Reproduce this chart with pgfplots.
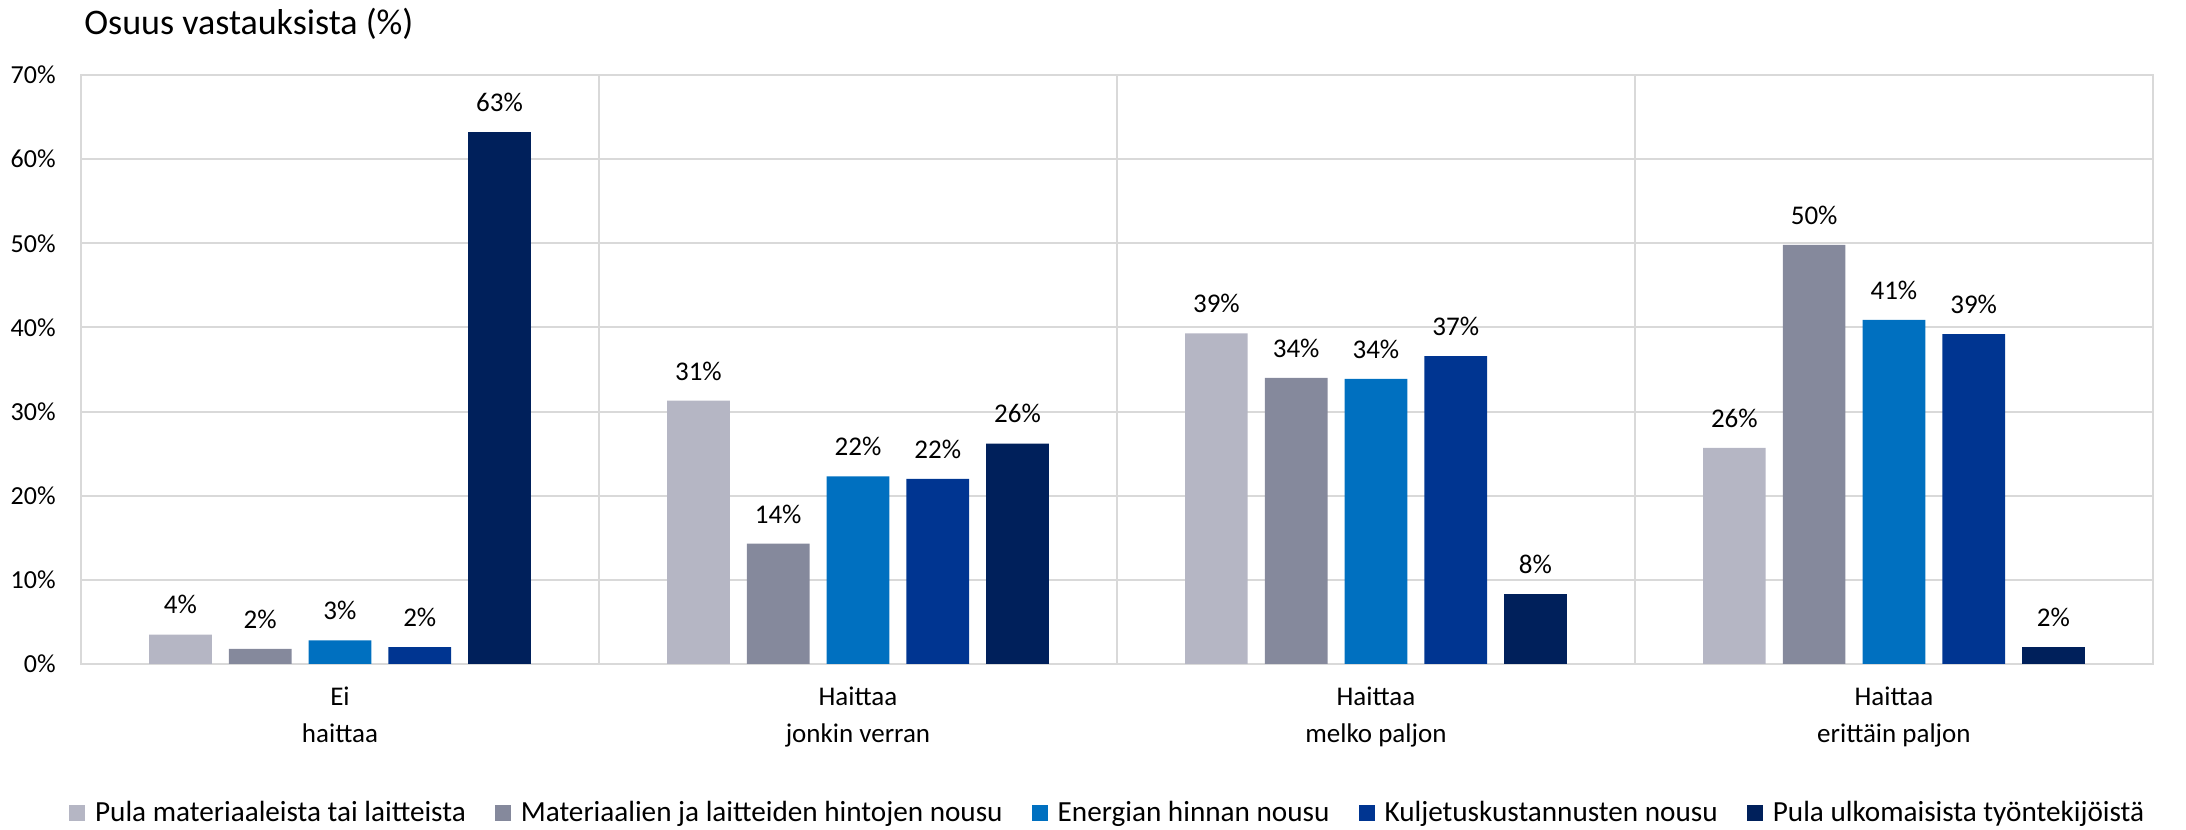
\documentclass[border=0pt]{standalone}
\usepackage{fontspec}
\setmainfont{Carlito}
\usepackage{pgfplots}
\pgfplotsset{compat=1.18}

\definecolor{cA}{HTML}{B5B6C4}
\definecolor{cB}{HTML}{85899C}
\definecolor{cC}{HTML}{0070C0}
\definecolor{cD}{HTML}{003591}
\definecolor{cE}{HTML}{00205B}
\definecolor{gridgray}{HTML}{D9D9D9}

\begin{document}
\begin{tikzpicture}
\path[use as bounding box] (-40.5pt,-83pt) rectangle (1052.5pt,332pt);
\begin{axis}[
  scale only axis,
  width=1036pt, height=294.5pt,
  at={(0,0)}, anchor=south west,
  ymin=0, ymax=70,
  xmin=-0.5, xmax=3.5,
  ytick={0,10,...,70},
  yticklabel={\pgfmathprintnumber{\tick}\%},
  /pgf/number format/assume math mode=true,
  yticklabel style={font=\fontsize{13}{15}\selectfont, anchor=east, inner sep=0pt, xshift=-12.5pt},
  xtick={0,1,2,3},
  xticklabels={Ei\\haittaa, Haittaa\\jonkin verran, Haittaa\\melko paljon, Haittaa\\erittäin paljon},
  xticklabel style={font=\fontsize{13.5}{18.2}\selectfont, align=center, anchor=north, inner sep=0pt, yshift=-11.5pt},
  extra x ticks={0.5,1.5,2.5},
  extra x tick labels={},
  extra x tick style={grid=major, major tick length=0pt},
  major tick length=0pt,
  ymajorgrids,
  grid style={gridgray, line width=1pt},
  axis line style={gridgray, line width=1pt},
  ybar, bar width=0.121,
  nodes near coords={\pgfmathprintnumber[fixed,precision=0]{\pgfplotspointmeta}\%},
  nodes near coords style={font=\fontsize{13.5}{15}\selectfont, text=black, inner sep=0pt, anchor=south, yshift=10pt},
  legend columns=5,
  legend style={at={(0.496,-0.253)}, anchor=center, draw=none, fill=none,
    font=\fontsize{14.6}{17}\selectfont,
    /tikz/every odd column/.append style={column sep=3pt},
    /tikz/every even column/.append style={column sep=12.5pt}},
  legend image code/.code={\fill[#1] (0pt,-4pt) rectangle (8pt,4pt);},
]
\addplot[fill=cA, draw=none, bar shift=-0.308] coordinates {(0,3.5) (1,31.3) (2,39.3) (3,25.7)};
\addlegendentry{Pula materiaaleista tai laitteista}
\addplot[fill=cB, draw=none, bar shift=-0.154] coordinates {(0,1.8) (1,14.3) (2,34.0) (3,49.8)};
\addlegendentry{Materiaalien ja laitteiden hintojen nousu}
\addplot[fill=cC, draw=none, bar shift=0] coordinates {(0,2.8) (1,22.3) (2,33.9) (3,40.9)};
\addlegendentry{Energian hinnan nousu}
\addplot[fill=cD, draw=none, bar shift=0.154] coordinates {(0,2.0) (1,22.0) (2,36.6) (3,39.2)};
\addlegendentry{Kuljetuskustannusten nousu}
\addplot[fill=cE, draw=none, bar shift=0.308] coordinates {(0,63.2) (1,26.2) (2,8.3) (3,2.0)};
\addlegendentry{Pula ulkomaisista työntekijöistä}
\end{axis}
\node[anchor=west, inner sep=0pt, font=\fontsize{18}{20}\selectfont] at (1.5pt,320pt) {Osuus vastauksista (\%)};
\end{tikzpicture}
\end{document}
